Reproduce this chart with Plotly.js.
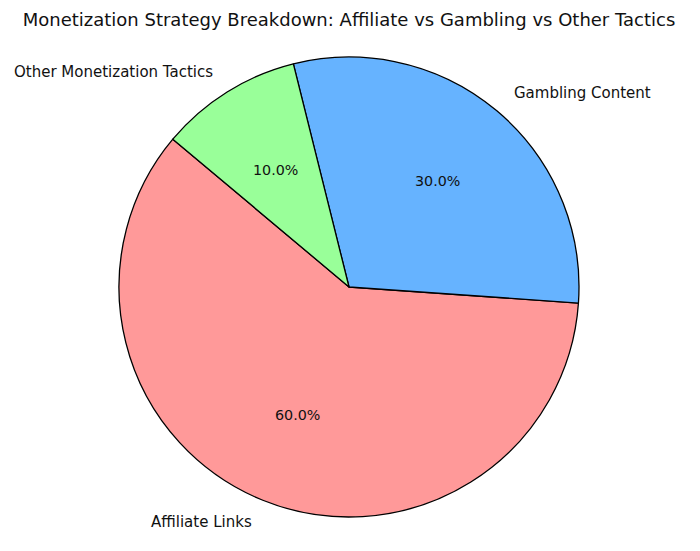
<!DOCTYPE html>
<html>
<head>
<meta charset="utf-8">
<script src="https://cdn.plot.ly/plotly-3.0.1.min.js"></script>
<style>html,body{margin:0;padding:0;background:#fff;}#chart{width:700px;height:551px;}</style>
</head>
<body>
<div id="chart"></div>
<script>
const categories = ["Affiliate Links", "Gambling Content", "Other Monetization Tactics"];
const values = [60, 30, 10];
const colors = ["#ff9999", "#66b3ff", "#99ff99"];
const titleText = "Monetization Strategy Breakdown: Affiliate vs Gambling vs Other Tactics";

const W = 700, H = 551;
const cx = 349, cyTop = 287, R = 230;
const cyBottom = H - cyTop;
const startAngle = 140; // degrees, counterclockwise from 3 o'clock

const total = values.reduce((a, b) => a + b, 0);
const annotations = [];
let ang = startAngle;
values.forEach((v, i) => {
  const sweep = 360 * v / total;
  const mid = (ang + sweep / 2) * Math.PI / 180;
  ang += sweep;
  const c = Math.cos(mid), s = Math.sin(mid);
  annotations.push({
    xref: "paper", yref: "paper",
    x: (cx + 1.1 * R * c) / W, y: (cyBottom + 1.1 * R * s) / H,
    text: categories[i], showarrow: false,
    xanchor: c > 0 ? "left" : "right", yanchor: "middle",
    font: {family: "DejaVu Sans", size: 15, color: "#111"}
  });
  annotations.push({
    xref: "paper", yref: "paper",
    x: (cx + 0.6 * R * c) / W, y: (cyBottom + 0.6 * R * s) / H,
    text: (100 * v / total).toFixed(1) + "%", showarrow: false,
    xanchor: "center", yanchor: "middle",
    font: {family: "DejaVu Sans", size: 14.3, color: "#111"}
  });
});

// Plotly counterclockwise: first slice ends at (90 - rotation) math degrees
const firstSweep = 360 * values[0] / total;
let rot = 90 - (startAngle + firstSweep);
rot = ((rot % 360) + 540) % 360 - 180;

const data = [{
  type: "pie",
  labels: categories,
  values: values,
  sort: false,
  direction: "counterclockwise",
  rotation: rot,
  marker: {colors: colors, line: {color: "#000", width: 1.3}},
  textinfo: "none",
  hoverinfo: "none",
  showlegend: false,
  domain: {x: [(cx - R) / W, (cx + R) / W], y: [(cyBottom - R) / H, (cyBottom + R) / H]}
}];

const layout = {
  width: W, height: H,
  margin: {l: 0, r: 0, t: 0, b: 0},
  paper_bgcolor: "#fff",
  showlegend: false,
  title: {
    text: titleText,
    x: cx / W, xanchor: "center",
    y: 1 - 20 / H, yanchor: "middle", yref: "container",
    font: {family: "DejaVu Sans", size: 18, color: "#111"}
  },
  annotations: annotations
};

Plotly.newPlot("chart", data, layout, {displayModeBar: false, staticPlot: true});
</script>
</body>
</html>
